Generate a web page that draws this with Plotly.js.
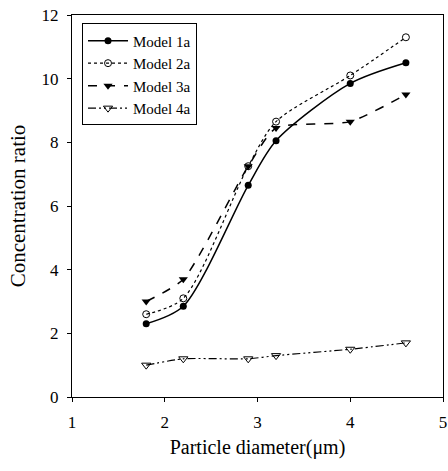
<!DOCTYPE html>
<html><head><meta charset="utf-8">
<script src="https://cdn.plot.ly/plotly-3.0.1.min.js"></script>
<style>body{margin:0;background:#fff}#c{width:448px;height:471px}</style>
</head><body><div id="c"></div>
<script>
const diameter = [1.8, 2.2, 2.9, 3.2, 4.0, 4.6];
const model1a = [2.3, 2.85, 6.65, 8.05, 9.85, 10.5];
const model2a = [2.6, 3.1, 7.25, 8.65, 10.1, 11.3];
const model3a = [3.0, 3.7, 7.25, 8.45, 8.65, 9.5];
const model4a = [1.0, 1.2, 1.2, 1.3, 1.5, 1.7];
const names = ['Model 1a', 'Model 2a', 'Model 3a', 'Model 4a'];

const traces = [
  {x: diameter, y: model1a, name: names[0], mode: 'lines+markers',
   line: {color: '#000', width: 1.5, dash: 'solid', shape: 'spline', smoothing: 0.8},
   marker: {symbol: 'circle', size: 7, color: '#000'}},
  {x: diameter, y: model2a, name: names[1], mode: 'lines+markers',
   line: {color: '#000', width: 1.2, dash: 'dot', shape: 'spline', smoothing: 0.8},
   marker: {symbol: 'circle-open', size: 7, color: '#000', line: {width: 1}}},
  {x: diameter, y: model3a, name: names[2], mode: 'lines+markers',
   line: {color: '#000', width: 1.5, dash: 'dash', shape: 'spline', smoothing: 0.6},
   marker: {symbol: 'triangle-down', size: 8, color: '#000'}},
  {x: diameter, y: model4a, name: names[3], mode: 'lines+markers',
   line: {color: '#000', width: 1.2, dash: '8px,3px,2px,3px,2px,3px', shape: 'spline', smoothing: 0.6},
   marker: {symbol: 'triangle-down-open', size: 8, color: '#000', line: {width: 1}}}
];

const layout = {
  width: 448, height: 471,
  margin: {l: 72, r: 5, t: 15, b: 74},
  paper_bgcolor: '#fff', plot_bgcolor: '#fff',
  font: {family: 'Liberation Serif, Times New Roman, serif', color: '#000', size: 17},
  showlegend: true,
  legend: {x: 0.027, y: 0.978, xanchor: 'left', yanchor: 'top',
    bordercolor: '#000', borderwidth: 1, bgcolor: '#fff', itemwidth: 40,
    font: {size: 15, family: 'Liberation Serif, serif'}, tracegroupgap: 0},
  xaxis: {range: [1, 5], dtick: 1, tick0: 1, showgrid: false, zeroline: false,
    showline: true, linecolor: '#000', linewidth: 1, mirror: true,
    ticks: 'outside', ticklen: 4, tickcolor: '#000', ticklabelstandoff: 6,
    tickfont: {size: 17},
    title: {text: 'Particle diameter(\u03bcm)', font: {size: 20}, standoff: 8}},
  yaxis: {range: [0, 12], dtick: 2, showgrid: false, zeroline: false,
    showline: true, linecolor: '#000', linewidth: 1, mirror: true,
    ticks: 'outside', ticklen: 4, tickcolor: '#000', ticklabelstandoff: 5,
    tickfont: {size: 17},
    title: {text: 'Concentration ratio', font: {size: 21}, standoff: 10}}
};

Plotly.newPlot('c', traces, layout, {displayModeBar: false, staticPlot: true});
</script></body></html>
